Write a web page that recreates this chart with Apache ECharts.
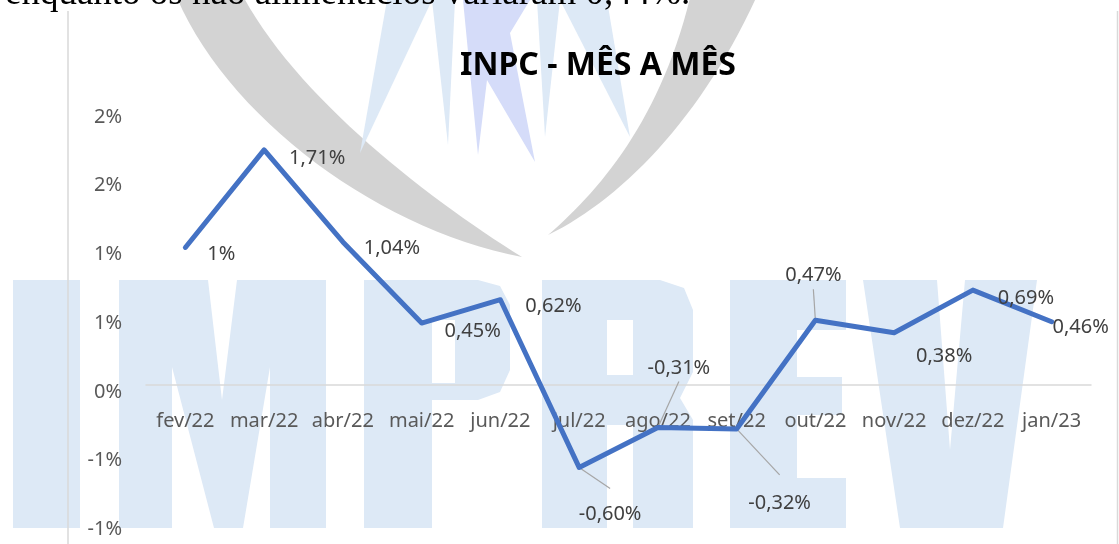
<!DOCTYPE html>
<html>
<head>
<meta charset="utf-8">
<title>INPC - MÊS A MÊS</title>
<script src="https://cdn.jsdelivr.net/npm/echarts@6/dist/echarts.min.js"></script>
<style>
	html, body { margin: 0; padding: 0; background: #fff; }
	#grafico { width: 1119px; height: 544px; }
</style>
</head>
<body>
<div id="grafico"></div>
<script>
	// meses (eixo x)
	var meses = ['fev/22', 'mar/22', 'abr/22', 'mai/22', 'jun/22', 'jul/22', 'ago/22', 'set/22', 'out/22', 'nov/22', 'dez/22', 'jan/23'];
	// variação mensal do INPC, em %
	var inpc = [1.00, 1.71, 1.04, 0.45, 0.62, -0.60, -0.31, -0.32, 0.47, 0.38, 0.69, 0.46];
	// rótulos de dados como aparecem no gráfico
	var rotulos = ['1%', '1,71%', '1,04%', '0,45%', '0,62%', '-0,60%', '-0,31%', '-0,32%', '0,47%', '0,38%', '0,69%', '0,46%'];
	// eixo y
	var yMin = -1;
	var yMax = 2;
	var yPasso = 0.5;

	// deslocamento dos rótulos (px) e linhas de chamada (fim da linha, relativo ao ponto)
	var desloc = [[36, 7], [53, 8], [49, 6], [51, 8], [53, 7], [31, 47], [21, -59], [43, 74], [-2, -45], [50, 24], [53, 8], [29, 6]];
	var fimLinha = [null, null, null, null, null, [31, 21], [21, -46], [43, 46], [-2, -31], null, null, null];

	var FONTE = '"Noto Sans", sans-serif';
	var AZUL_CLARO = '#dde9f6';

	// área do gráfico
	var gTop = 110, gBottom = 21.6, altura = 544;
	var gAlt = altura - gTop - gBottom;
	// distância do zero até a base do grid (para o eixo x ficar no 0%)
	var zeroOffset = gAlt * (0 - yMin) / (yMax - yMin);

	//pontos de uma curva cúbica (só para o desenho de fundo)
	function cubica(p0, c1, c2, p1, n) {
		var pts = [];
		for (var i = 0; i <= n; i++) {
			var t = i / n, u = 1 - t;
			pts.push([
				u * u * u * p0[0] + 3 * u * u * t * c1[0] + 3 * u * t * t * c2[0] + t * t * t * p1[0],
				u * u * u * p0[1] + 3 * u * u * t * c1[1] + 3 * u * t * t * c2[1] + t * t * t * p1[1]
			]);
		}
		return pts;
	}

	function poligono(pts, cor) {
		return { type: 'polygon', z: -10, silent: true, shape: { points: pts }, style: { fill: cor } };
	}

	// marca d'água: arco cinza, pontas azuis e "IMPREV"
	var fundo = [
		poligono(cubica([177, -2], [230, 120], [380, 230], [522, 257], 30).concat(cubica([522, 257], [430, 200], [300, 100], [244, -2], 30)), '#d3d3d3'),
		poligono(cubica([690, -2], [660, 120], [600, 190], [548, 235], 30).concat(cubica([548, 235], [620, 200], [700, 120], [756, -2], 30)), '#d3d3d3'),
		poligono([[387, 0], [432, 0], [360, 153]], AZUL_CLARO),
		poligono([[432, 0], [455, 0], [448, 145]], AZUL_CLARO),
		poligono([[537, 0], [560, 0], [545, 137]], AZUL_CLARO),
		poligono([[560, 0], [607, 0], [630, 137]], AZUL_CLARO),
		poligono([[463, 0], [530, 0], [510, 33], [535, 162], [487, 80], [478, 155]], '#d5dcf9'),
		// I
		poligono([[13, 280], [80, 280], [80, 528], [13, 528]], AZUL_CLARO),
		// M
		poligono([[119, 280], [208, 280], [222, 400], [237, 280], [326, 280], [326, 528], [270, 528], [270, 367], [243, 528], [214, 528], [172, 367], [172, 528], [119, 528]], AZUL_CLARO),
		// P
		poligono([[364, 280], [478, 280], [500, 286], [510, 305], [510, 370], [500, 392], [478, 400], [432, 400], [432, 528], [364, 528]], AZUL_CLARO),
		poligono([[432, 320], [455, 320], [455, 383], [432, 383]], '#ffffff'),
		// R
		poligono([[542, 280], [660, 280], [684, 288], [693, 310], [693, 372], [680, 398], [693, 420], [693, 528], [633, 528], [633, 425], [607, 425], [607, 528], [542, 528]], AZUL_CLARO),
		poligono([[607, 320], [633, 320], [633, 375], [607, 375]], '#ffffff'),
		// E
		poligono([[730, 280], [846, 280], [846, 330], [797, 330], [797, 377], [842, 377], [842, 415], [797, 415], [797, 478], [846, 478], [846, 528], [730, 528]], AZUL_CLARO),
		// V
		poligono([[863, 280], [937, 280], [950, 450], [965, 280], [1037, 280], [1003, 528], [900, 528]], AZUL_CLARO),
		// bordas cinzas do quadro
		{ type: 'line', z: -5, silent: true, shape: { x1: 68, y1: 11, x2: 68, y2: 544 }, style: { stroke: '#d9d9d9', lineWidth: 1.5 } },
		{ type: 'line', z: -5, silent: true, shape: { x1: 1117.5, y1: 11, x2: 1117.5, y2: 544 }, style: { stroke: '#d9d9d9', lineWidth: 1.5 } },
		// texto do documento cortado no topo
		{ type: 'text', z: -1, silent: true, x: 5, y: 13,
			style: { text: 'enquanto os não alimentícios variaram 0,44%.', font: '37px "Liberation Serif"', fill: '#000', verticalAlign: 'bottom' } }
	];

	var option = {
		animation: false,
		backgroundColor: '#ffffff',
		title: {
			text: 'INPC - MÊS A MÊS',
			left: 455,
			top: 45,
			textStyle: { fontFamily: FONTE, fontWeight: 'bold', fontSize: 32, color: '#000000' }
		},
		graphic: { elements: fundo },
		grid: { left: 146, right: 28, top: gTop, bottom: gBottom, containLabel: false, outerBoundsMode: 'none' },
		xAxis: {
			type: 'category',
			data: meses,
			boundaryGap: true,
			offset: -zeroOffset,
			axisLine: { show: true, onZero: false, lineStyle: { color: '#d9d9d9', width: 1.5 } },
			axisTick: { show: false },
			axisLabel: { margin: 26, color: '#595959', fontSize: 20, fontFamily: FONTE, interval: 0 },
			splitLine: { show: false }
		},
		yAxis: {
			type: 'value',
			min: yMin,
			max: yMax,
			interval: yPasso,
			axisLine: { show: false },
			axisTick: { show: false },
			splitLine: { show: false },
			axisLabel: {
				margin: 24,
				color: '#595959',
				fontSize: 20,
				fontFamily: FONTE,
				verticalAlign: 'top',
				lineHeight: 14,
				formatter: function(v) {
					//arredonda como o Excel (0,5 para longe do zero)
					var r = v < 0 ? -Math.round(-v) : Math.round(v);
					return r + '%';
				}
			}
		},
		series: [{
			name: 'INPC',
			type: 'line',
			data: inpc,
			symbol: 'circle',
			symbolSize: 1,
			showSymbol: true,
			itemStyle: { color: '#4472c4' },
			lineStyle: { color: '#4472c4', width: 5, cap: 'round', join: 'round' },
			label: {
				show: true,
				position: 'inside',
				color: '#404040',
				fontSize: 20,
				fontFamily: FONTE,
				formatter: function(p) {
					return rotulos[p.dataIndex];
				}
			},
			labelLayout: function(p) {
				var d = desloc[p.dataIndex];
				return { dx: d[0], dy: d[1] };
			}
		}]
	};

	var grafico = echarts.init(document.getElementById('grafico'));
	grafico.setOption(option);

	//linhas de chamada dos rótulos, a partir da posição real de cada ponto
	var chamadas = [];
	for (var i = 0; i < inpc.length; i++) {
		if (!fimLinha[i]) continue;
		var p = grafico.convertToPixel({ seriesIndex: 0 }, [i, inpc[i]]);
		chamadas.push({
			type: 'line', z: 3, silent: true,
			shape: { x1: p[0], y1: p[1], x2: p[0] + fimLinha[i][0], y2: p[1] + fimLinha[i][1] },
			style: { stroke: '#a6a6a6', lineWidth: 1.2 }
		});
	}
	grafico.setOption({ graphic: { elements: fundo.concat(chamadas) } });
</script>
</body>
</html>
